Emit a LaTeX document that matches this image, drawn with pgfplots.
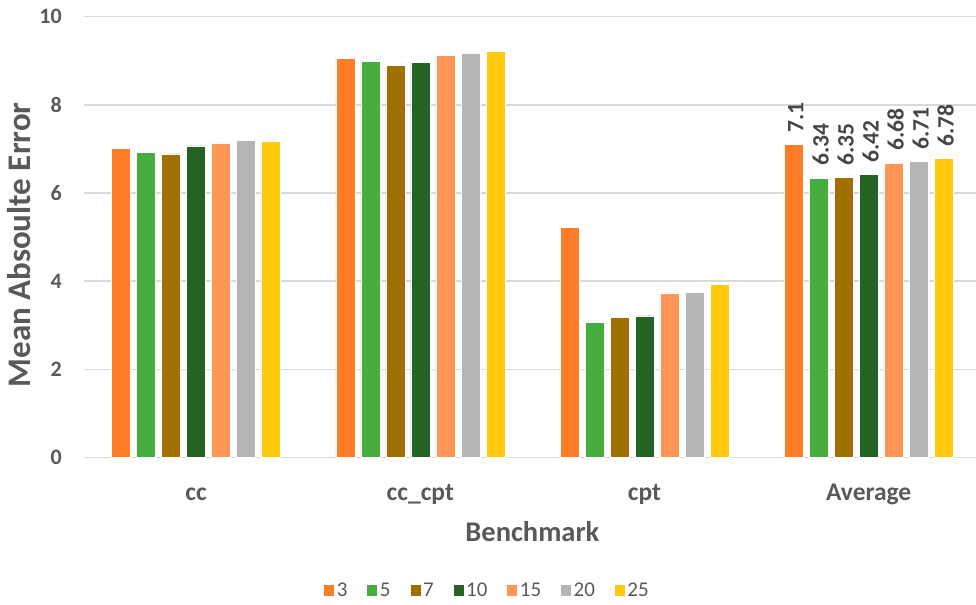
\documentclass[border=0pt]{standalone}
\usepackage{pgfplots}
\pgfplotsset{compat=1.18}
\usepackage{fontspec}
\usepackage{graphicx}
\setmainfont{Carlito}
\definecolor{c3}{RGB}{253,126,38}
\definecolor{c5}{RGB}{70,173,62}
\definecolor{c7}{RGB}{160,112,0}
\definecolor{c10}{RGB}{36,99,36}
\definecolor{c15}{RGB}{255,150,85}
\definecolor{c20}{RGB}{181,181,181}
\definecolor{c25}{RGB}{255,201,14}
\definecolor{txtgray}{RGB}{89,89,89}
\definecolor{valgray}{RGB}{70,70,70}
\definecolor{gridgray}{RGB}{217,217,217}
\begin{document}
\begin{tikzpicture}
\path[use as bounding box] (-84bp,-147.7bp) rectangle (892bp,457.3bp);
\begin{axis}[
  at={(0bp,0bp)}, anchor=south west,
  x=224.2bp, y=44.05bp,
  xmin=-0.5, xmax=3.5, ymin=0, ymax=10,
  axis line style={draw=none},
  major tick length=0pt,
  ytick={0,2,...,10},
  xtick={0,1,2,3},
  xticklabels={cc,cc\_cpt,cpt,Average},
  ymajorgrids,
  major grid style={gridgray, line width=1.3bp},
  /pgf/number format/assume math mode=true,
  yticklabel style={font=\fontsize{22bp}{26bp}\selectfont\bfseries, text=txtgray, anchor=east, inner sep=0pt, xshift=-22bp},
  xticklabel style={font=\fontsize{25.5bp}{30bp}\selectfont\bfseries, text=txtgray, anchor=base, inner sep=0pt, yshift=-42.7bp},
  xlabel={Benchmark},
  ylabel={Mean Absoulte Error},
  xlabel style={at={(axis description cs:0.5,0)}, anchor=base, inner sep=0pt, yshift=-84.4bp, font=\fontsize{28.5bp}{33bp}\selectfont\bfseries, text=txtgray},
  ylabel style={at={(axis description cs:-0.0602,0.482)}, anchor=base, inner sep=0pt, font=\fontsize{33bp}{38bp}\selectfont\bfseries, text=txtgray},
  legend style={at={(axis description cs:0.4494,-0.3013)}, anchor=center, draw=none, fill=none, legend columns=-1, font=\fontsize{21bp}{25bp}\selectfont, text=txtgray, /tikz/every even column/.append style={column sep=17bp}},
  legend image code/.code={\fill (0bp,-6bp) rectangle (11bp,6bp);},
  bar width=19bp,
  bars/.style={ybar, bar shift=#1, draw=white, line width=0.5bp, point meta=explicit symbolic,
    nodes near coords={\rotatebox{90}{\pgfplotspointmeta}},
    every node near coord/.append style={font=\fontsize{23.5bp}{28bp}\selectfont\bfseries, text=valgray, anchor=south, inner xsep=0pt, inner ysep=12bp, xshift=#1+2bp}},
]
\addplot[bars=-75bp, fill=c3] coordinates {(0,7.01) [] (1,9.06) [] (2,5.22) [] (3,7.1) [7.1]};
\addplot[bars=-50bp, fill=c5] coordinates {(0,6.92) [] (1,8.98) [] (2,3.06) [] (3,6.34) [6.34]};
\addplot[bars=-25bp, fill=c7] coordinates {(0,6.89) [] (1,8.90) [] (2,3.18) [] (3,6.35) [6.35]};
\addplot[bars=0bp, fill=c10] coordinates {(0,7.07) [] (1,8.96) [] (2,3.21) [] (3,6.42) [6.42]};
\addplot[bars=25bp, fill=c15] coordinates {(0,7.14) [] (1,9.12) [] (2,3.73) [] (3,6.68) [6.68]};
\addplot[bars=50bp, fill=c20] coordinates {(0,7.20) [] (1,9.17) [] (2,3.75) [] (3,6.71) [6.71]};
\addplot[bars=75bp, fill=c25] coordinates {(0,7.17) [] (1,9.22) [] (2,3.93) [] (3,6.78) [6.78]};
\legend{3,5,7,10,15,20,25}
\end{axis}
\end{tikzpicture}
\end{document}
